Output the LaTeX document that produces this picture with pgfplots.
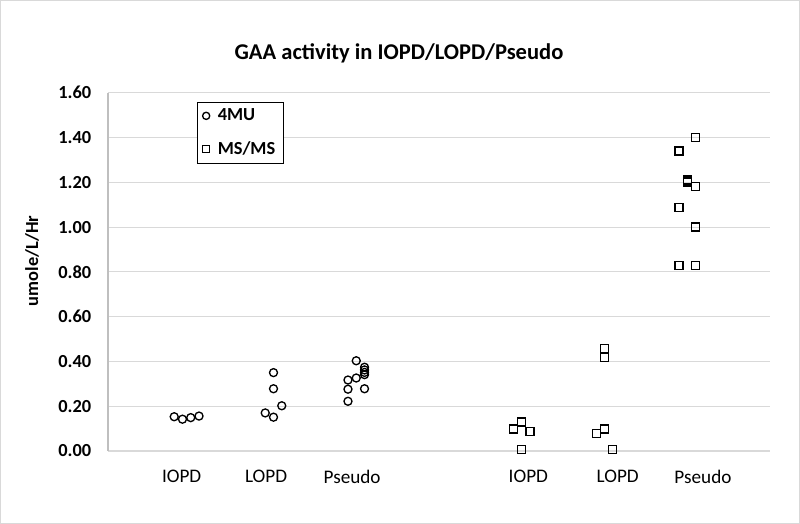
\documentclass[border=0pt]{standalone}
\usepackage{fontspec}
\setmainfont{Carlito}
\usepackage{pgfplots}
\pgfplotsset{compat=1.18}
\definecolor{gridgray}{HTML}{D9D9D9}
\definecolor{axisgray}{HTML}{BFBFBF}
\definecolor{framegray}{HTML}{D9D9D9}

\begin{document}
\begin{tikzpicture}
  % outer chart frame (800x524 px at 0.75pt per px)
  \draw[framegray, line width=0.8pt] (-80.6pt,-54.35pt) rectangle (518.6pt,337.85pt);
  \begin{axis}[
      scale only axis,
      width=496.5pt, height=268.7pt,
      xmin=0, xmax=8,
      ymin=0, ymax=1.6,
      ytick={0,0.2,...,1.6},
      xtick={0.89,1.91,2.95,5.08,6.16,7.19},
      xticklabels={IOPD,LOPD,Pseudo,IOPD,LOPD,Pseudo},
      major tick length=0pt,
      axis lines*=left,
      x axis line style={draw=none},
      y axis line style={axisgray, line width=0.8pt, -},
      ymajorgrids,
      major grid style={gridgray, line width=0.8pt},
      /pgf/number format/assume math mode=true,
      yticklabel style={font=\bfseries\fontsize{13.8}{16}\selectfont, /pgf/number format/fixed, /pgf/number format/fixed zerofill, /pgf/number format/precision=2, xshift=-9pt},
      xticklabel style={font=\fontsize{14.4}{16}\selectfont, yshift=-11pt},
      clip=false,
      legend style={at={(0.134,0.975)}, anchor=north west, draw=black, line width=0.8pt,
        font=\bfseries\fontsize{13.8}{16}\selectfont, inner xsep=4pt, inner ysep=3pt, row sep=10pt,
        /tikz/every odd column/.append style={column sep=4pt}},
      legend image post style={mark size=2.7pt, line width=0.8pt},
      legend cell align=left,
    ]
    \addplot[only marks, mark=o, mark size=3pt, mark options={line width=1pt, fill=white, draw=black}]
      coordinates {
      (0.8,0.153) (0.9,0.142) (1.0,0.149) (1.1,0.156)
      (2.0,0.350) (2.0,0.278) (2.1,0.202) (1.9,0.170) (2.0,0.151)
      (3.0,0.403) (3.1,0.374) (3.1,0.362) (3.1,0.351) (3.1,0.341)
      (2.9,0.317) (3.0,0.326) (2.9,0.276) (3.1,0.278) (2.9,0.222)
    };
    \addlegendentry{4MU}
    \addplot[only marks, mark=square, mark size=3pt, mark options={line width=1pt, fill=white, draw=black}]
      coordinates {
      (4.9,0.098) (5.0,0.130) (5.1,0.088) (5.0,0.008)
      (6.0,0.457) (6.0,0.418) (5.9,0.079) (6.0,0.098) (6.1,0.008)
      (7.1,1.401) (6.9,1.340) (7.0,1.210) (7.0,1.201) (7.1,1.180)
      (6.9,1.088) (7.1,1.000) (6.9,0.828) (7.1,0.828)
    };
    \addlegendentry{MS/MS\hspace{10pt}}
  \end{axis}
  \node[font=\bfseries\fontsize{16.9}{19}\selectfont] at (218.25pt,298.5pt) {GAA activity in IOPD/LOPD/Pseudo};
  \node[font=\bfseries\fontsize{13.8}{16}\selectfont, rotate=90] at (-57pt,142.5pt) {umole/L/Hr};
\end{tikzpicture}
\end{document}
